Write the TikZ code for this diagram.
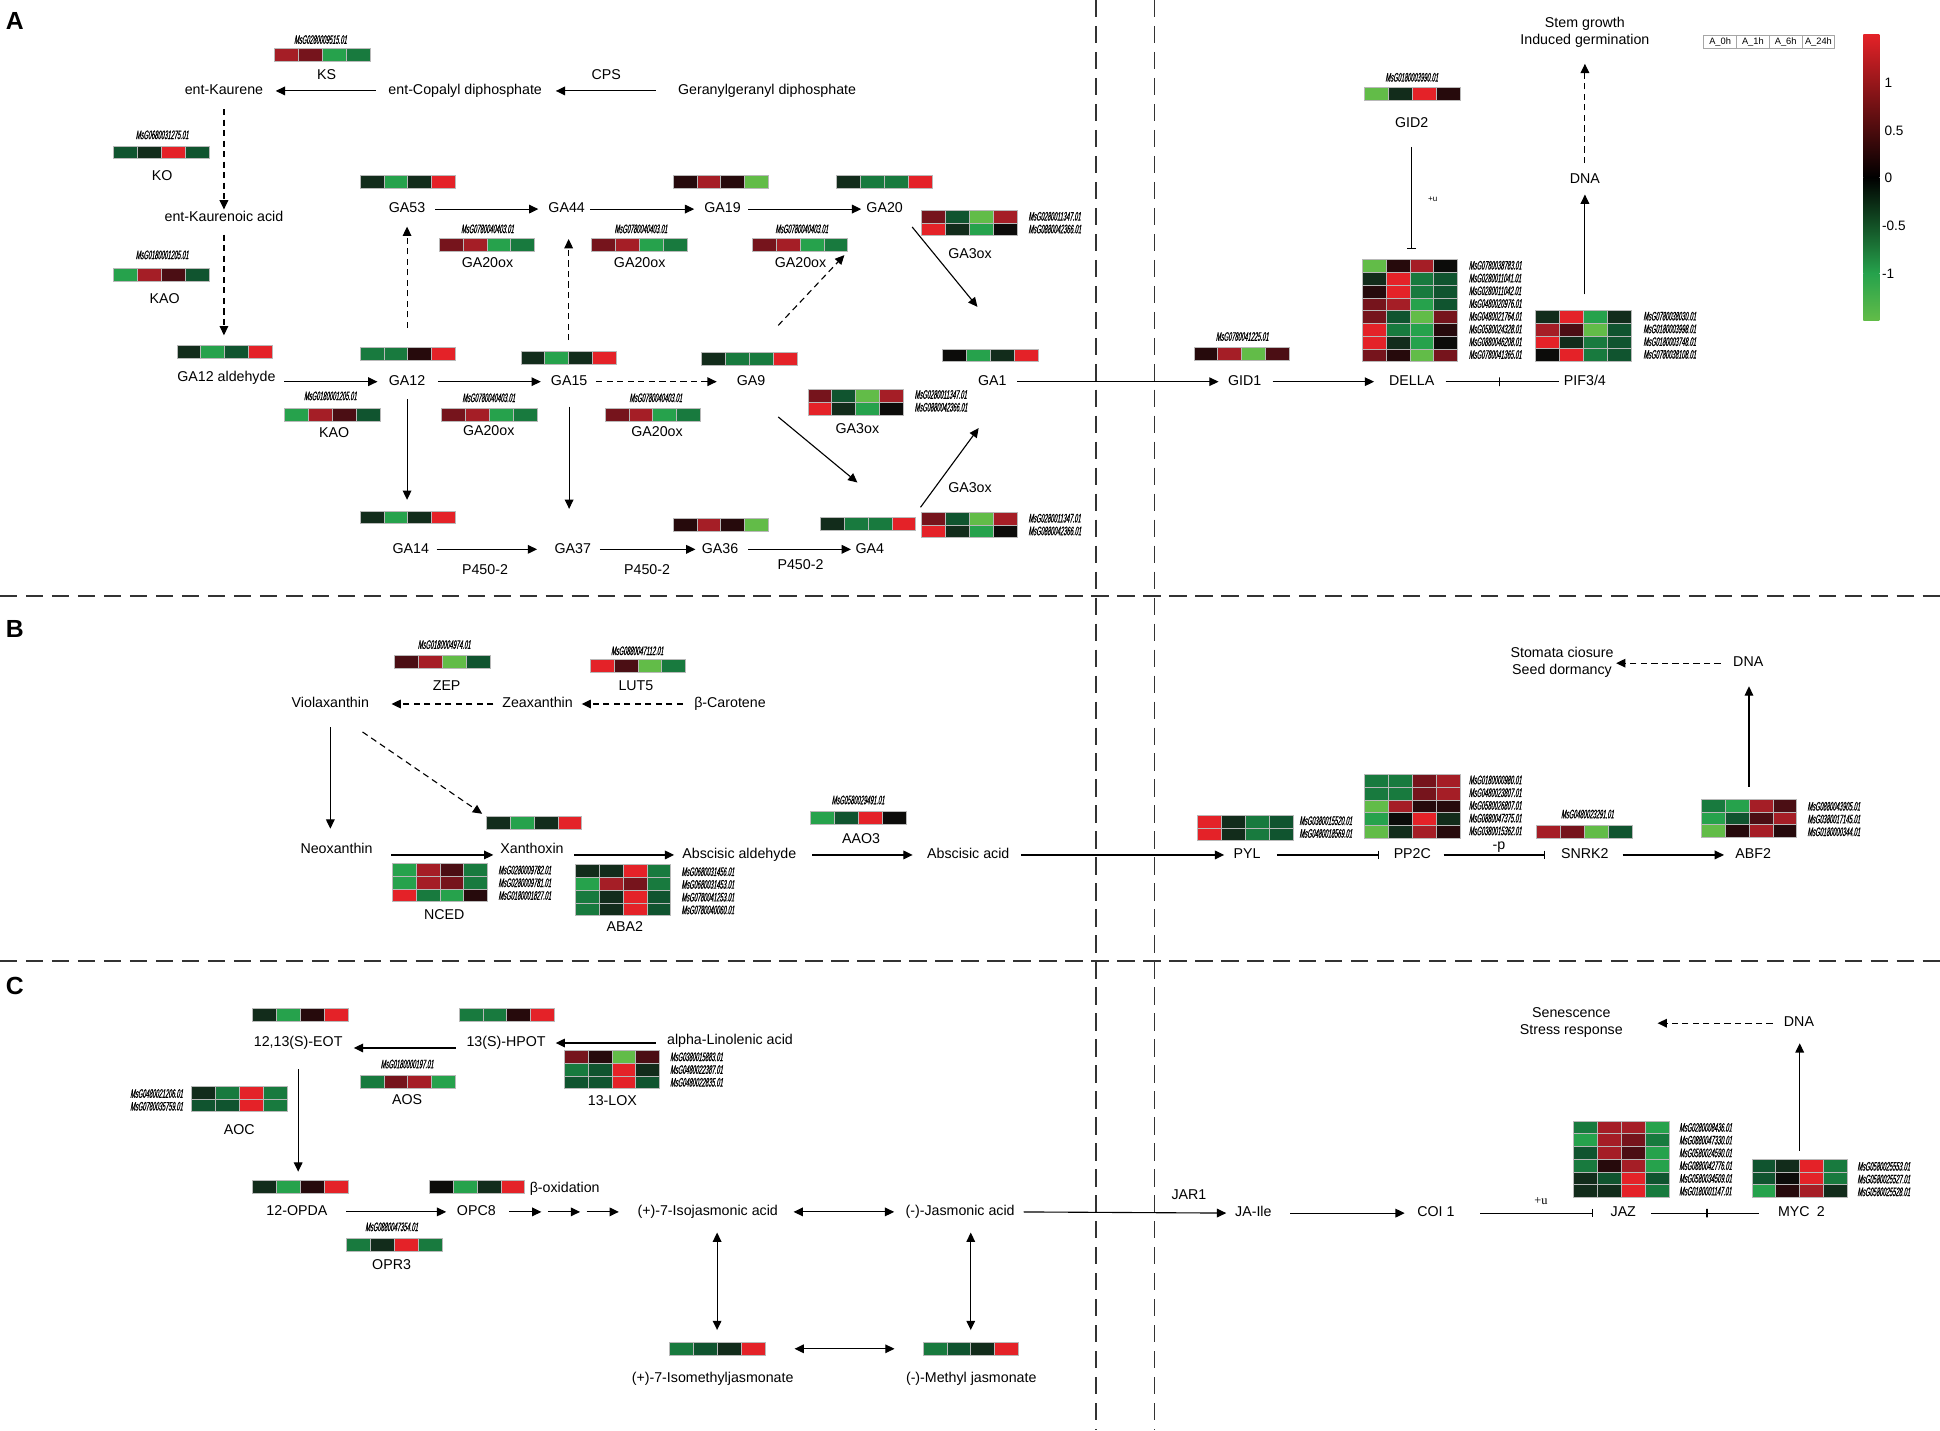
\documentclass[tikz,border=0pt]{standalone}
\usepackage{fontspec}
\setmainfont{Liberation Sans}
\newfontfamily\idfont[FakeStretch=0.47,FakeSlant=0.18,FakeBold=0.5]{Liberation Sans}
\newfontfamily\seriffont{Liberation Serif}
\usetikzlibrary{arrows.meta}

\definecolor{hr}{RGB}{228,34,40}
\definecolor{mr}{RGB}{165,30,38}
\definecolor{dr}{RGB}{118,20,28}
\definecolor{vr}{RGB}{75,14,20}
\definecolor{kr}{RGB}{38,10,12}
\definecolor{kk}{RGB}{12,12,10}
\definecolor{vg}{RGB}{18,44,27}
\definecolor{dg}{RGB}{16,84,47}
\definecolor{mg}{RGB}{24,122,62}
\definecolor{bg}{RGB}{38,162,76}
\definecolor{lg}{RGB}{98,188,72}

\tikzset{
  lab/.style={font=\fontsize{11.5}{13.6}\selectfont, inner sep=1pt, text height=8.5pt, text depth=2.5pt},
  txt/.style={font=\fontsize{11.5}{14}\selectfont, inner sep=1pt, align=center},
  gid/.style={font=\idfont\fontsize{10}{10.3}\selectfont, inner sep=0pt, align=left},
  cell/.style={draw=gray!55, line width=0.6pt},
  conn/.style={line width=0.9pt, -{Triangle[length=7.5pt,width=7pt]}, shorten <=7pt, shorten >=7pt},
  dconn/.style={conn, dash pattern=on 5pt off 3.5pt},
  inhib/.style={line width=0.9pt, -{Bar[width=7pt]}, shorten <=7pt, shorten >=7pt},
  plain/.style={line width=0.9pt, shorten <=7pt, shorten >=7pt},
  tickm/.style={draw, line width=0.9pt, minimum width=0pt, minimum height=7pt, inner sep=0pt},
  dbl/.style={line width=0.9pt, {Triangle[length=7.5pt,width=7pt]}-{Triangle[length=7.5pt,width=7pt]}},
  part/.style={font=\fontsize{20}{20}\selectfont\bfseries, inner sep=0pt},
  sep/.style={line width=1.4pt, black!80, dash pattern=on 14pt off 7pt},
  legbox/.style={draw=gray!70, line width=0.6pt, minimum width=26.5pt, minimum height=10.7pt, inner sep=0pt, font=\fontsize{7.5}{7.5}\selectfont},
  cbl/.style={font=\fontsize{11}{11}\selectfont, inner sep=0pt, anchor=west}
}

\newcommand{\hmap}[4]{%
  \node[inner sep=0pt, outer sep=0pt, minimum width=77.2pt, minimum height=#3*10.3pt, anchor=north west] (#1) at #2 {};
  \begin{scope}[shift={#2}]
    \foreach \ca/\cb/\cc/\cd [count=\r] in {#4}
      \foreach \cl [count=\c] in {\ca,\cb,\cc,\cd}
        \filldraw[cell, fill=\cl] ({(\c-1)*19.3},{(\r-1)*10.3}) rectangle +(19.3,10.3);
  \end{scope}}

\begin{document}
\begin{tikzpicture}[x=1pt,y=-1pt]
\useasboundingbox (0,0) rectangle (1568,1156);

\draw[sep] (0,482) -- (1568,482);
\draw[sep] (0,777) -- (1568,777);
\draw[sep, line width=1.2pt] (886,0) -- (886,1156);
\draw[sep, line width=1.2pt] (933,0) -- (933,1156);

\node[part] (pa) at (12,17) {A};
\node[part] (pb) at (12,508) {B};
\node[part] (pc) at (12,797) {C};

\hmap{hks}{(222,39)}{1}{mr/dr/bg/mg}
\hmap{hko}{(92,118)}{1}{dg/vg/hr/dg}
\hmap{hkao}{(92,217)}{1}{bg/mr/vr/dg}
\hmap{hga12a}{(143,279)}{1}{vg/bg/dg/hr}
\hmap{hkaob}{(230,330)}{1}{bg/mr/vr/dg}
\hmap{hga12}{(291,281)}{1}{mg/mg/kr/hr}
\hmap{hga53}{(291,142)}{1}{vg/bg/vg/hr}
\hmap{hox20a}{(355,193)}{1}{dr/mr/bg/mg}
\hmap{hox20b}{(357,330)}{1}{dr/mr/bg/mg}
\hmap{hga14}{(291,413)}{1}{vg/bg/vg/hr}
\hmap{hga36}{(544,419)}{1}{kr/mr/kr/lg}
\hmap{hga4}{(663,418)}{1}{vg/mg/mg/hr}
\hmap{hox3c}{(745,414)}{2}{dr/dg/lg/mr, hr/vg/bg/kk}
\hmap{hox3b}{(653,315)}{2}{dr/dg/lg/mr, hr/vg/bg/kk}
\hmap{hga1}{(762,282)}{1}{kk/bg/vg/hr}
\hmap{hga15}{(421,284)}{1}{vg/bg/vg/hr}
\hmap{hox20c}{(478,193)}{1}{dr/mr/bg/mg}
\hmap{hga19}{(544,142)}{1}{kr/mr/kr/lg}
\hmap{hox20d}{(608,193)}{1}{dr/mr/bg/mg}
\hmap{hga20}{(676,142)}{1}{vg/mg/mg/hr}
\hmap{hox3a}{(745,170)}{2}{dr/dg/lg/mr, hr/vg/bg/kk}
\hmap{hox20e}{(489,330)}{1}{dr/mr/bg/mg}
\hmap{hga9}{(567,285)}{1}{vg/mg/mg/hr}
\hmap{hgid2}{(1103,71)}{1}{lg/vg/hr/kr}
\hmap{hdella}{(1101,210)}{8}{lg/kr/mr/kk, vg/hr/mg/dg, kr/hr/mg/dg, dr/mr/bg/dg, dr/dg/lg/dr, hr/mg/bg/kr, hr/vg/bg/kk, dr/kr/lg/dr}
\hmap{hgid1}{(965,281)}{1}{kr/mr/lg/vr}
\hmap{hpif}{(1241,251)}{4}{vg/hr/bg/vg, mr/vr/lg/dg, hr/vg/mg/dg, kk/hr/mg/dg}

\node[gid] (iks) at (259,32) {MsG0280009515.01};
\node[gid] (iko) at (131,109) {MsG0680031275.01};
\node[gid] (ikao) at (131,206) {MsG0180001205.01};
\node[gid] (ikaob) at (267,320) {MsG0180001205.01};
\node[gid] (iox20a) at (394,185) {MsG0780040403.01};
\node[gid] (iox20b) at (395,321.5) {MsG0780040403.01};
\node[gid] (iox20c) at (518,185) {MsG0780040403.01};
\node[gid] (iox20d) at (648,185) {MsG0780040403.01};
\node[gid] (iox20e) at (530,321.5) {MsG0780040403.01};
\node[gid, anchor=west] (iox3a) at (831,180) {MsG0280011347.01\\MsG0880042366.01};
\node[gid, anchor=west] (iox3b) at (739,324) {MsG0280011347.01\\MsG0880042366.01};
\node[gid, anchor=west] (iox3c) at (831,424) {MsG0280011347.01\\MsG0880042366.01};
\node[gid] (igid2) at (1141,62.5) {MsG0180003990.01};
\node[gid] (igid1) at (1004,272) {MsG0780041225.01};
\node[gid, anchor=west] (idella) at (1187,250.5) {MsG0780038783.01\\MsG0280011041.01\\MsG0280011042.01\\MsG0480020976.01\\MsG0480021764.01\\MsG0580024328.01\\MsG0880046208.01\\MsG0780041365.01};
\node[gid, anchor=west] (ipif) at (1328,271) {MsG0780038030.01\\MsG0180003998.01\\MsG0180003748.01\\MsG0780038108.01};

\node[lab] (kaur) at (181,73.5) {ent-Kaurene};
\node[lab] (cpp) at (376,73.5) {ent-Copalyl diphosphate};
\node[lab] (ggpp) at (620,73.5) {Geranylgeranyl diphosphate};
\node[lab] (lks) at (264,61) {KS};
\node[lab] (lcps) at (490,61) {CPS};
\node[lab] (lko) at (131,143) {KO};
\node[lab] (kaac) at (181,176) {ent-Kaurenoic acid};
\node[lab] (lkao) at (133,242) {KAO};
\node[lab] (ga12a) at (183,305) {GA12 aldehyde};
\node[lab] (lkaob) at (270,351) {KAO};
\node[lab] (ga12) at (329,308.5) {GA12};
\node[lab] (ga53) at (329,169) {GA53};
\node[lab] (ga44) at (458,169) {GA44};
\node[lab] (ga19) at (584,169) {GA19};
\node[lab] (ga20) at (715,169) {GA20};
\node[lab] (ga15) at (460,308.5) {GA15};
\node[lab] (ga9) at (607,308.5) {GA9};
\node[lab] (ga1) at (802,308.5) {GA1};
\node[lab] (ga14) at (332,444) {GA14};
\node[lab] (ga37) at (463,444) {GA37};
\node[lab] (ga36) at (582,444) {GA36};
\node[lab] (ga4) at (703,444) {GA4};
\node[lab] (lox20a) at (394,213) {GA20ox};
\node[lab] (lox20b) at (395,349) {GA20ox};
\node[lab] (lox20c) at (517,213) {GA20ox};
\node[lab] (lox20d) at (647,213) {GA20ox};
\node[lab] (lox20e) at (531,350) {GA20ox};
\node[lab] (lox3a) at (784,206) {GA3ox};
\node[lab] (lox3b) at (693,347) {GA3ox};
\node[lab] (lox3c) at (784,395) {GA3ox};
\node[lab] (lp1) at (392,461) {P450-2};
\node[lab] (lp2) at (523,461) {P450-2};
\node[lab] (lp3) at (647,457) {P450-2};
\node[lab] (gid1) at (1006,308.5) {GID1};
\node[lab] (della) at (1141,308.5) {DELLA};
\node[lab] (pif) at (1281,308.5) {PIF3/4};
\node[lab] (gid2) at (1141,100) {GID2};
\node[lab] (dnaA) at (1281,145) {DNA};
\node[txt] (stem) at (1281,26) {Stem growth\\Induced germination};
\node[font=\fontsize{6.5}{6.5}\selectfont, inner sep=0pt] (lua) at (1158,161) {+u};

\coordinate (ga1in) at (790,248);
\coordinate (ga9up) at (629,263);
\coordinate (ga9dn) at (629,337);
\coordinate (ga4in) at (693,390);
\coordinate (ga4out) at (744,410);
\coordinate (ga1dn) at (791,346);

\draw[conn, shorten <=9pt, shorten >=9pt] (cpp.west) -- (kaur.east);
\draw[conn, shorten <=17pt, shorten >=10pt] (ggpp.west) -- (cpp.east);
\draw[dconn, shorten <=8pt, shorten >=0pt] (kaur.south) -- (kaac.north);
\draw[dconn, shorten <=7pt, shorten >=8pt] (kaac.south) -- (kaac.south |- hga12a.north);
\draw[conn, shorten <=6pt, shorten >=8pt] (ga12a.east |- ga12.west) -- (ga12.west);
\draw[dconn, shorten <=16pt, shorten >=7.5pt] (hga12.north -| ga12) -- (ga53.south);
\draw[conn] (ga53.east) -- (ga44.west);
\draw[conn, shorten <=9pt, shorten >=7pt] (ga12.east) -- (ga15.west);
\draw[dconn, shorten <=6pt, shorten >=15pt] (ga15.east) -- (ga9.west);
\draw[dconn, shorten <=9pt, shorten >=17.5pt] (hga15.north) -- (hga15.north |- ga44.south);
\draw[conn, shorten <=3pt, shorten >=7pt] (ga44.east) -- (ga19.west);
\draw[conn, shorten <=5pt, shorten >=3pt] (ga19.east) -- (ga20.west);
\draw[conn, shorten <=10pt, shorten >=0pt] (ga20.south east) -- (ga1in);
\draw[dconn, shorten <=0pt, shorten >=4pt] (ga9up) -- (hox20d.south east);
\draw[conn, shorten <=0pt, shorten >=0pt] (ga9dn) -- (ga4in);
\draw[conn, shorten <=0pt, shorten >=0pt] (ga4out) -- (ga1dn);
\draw[conn, shorten <=7.5pt, shorten >=9pt] (ga12.south) -- (ga12.south |- hga14.north);
\draw[conn, shorten <=13.5pt, shorten >=26pt] (ga15.south) -- (ga15.south |- ga37.north);
\draw[conn, shorten <=5pt, shorten >=13pt] (ga14.east) -- (ga37.west);
\draw[conn, shorten <=6pt, shorten >=4pt] (ga37.east) -- (ga36.west);
\draw[conn, shorten <=7pt, shorten >=2.5pt] (ga36.east) -- (ga4.west);
\draw[conn, shorten <=7.5pt, shorten >=6.5pt] (ga1.east) -- (gid1.west);
\draw[conn, shorten <=8pt, shorten >=11pt] (gid1.east) -- (della.west);
\draw[plain, shorten <=8pt, shorten >=2.5pt] (della.east) -- node[tickm] (tk1) {} (pif.west);
\draw[inhib, shorten <=12pt, shorten >=8.5pt] (gid2.south) -- (gid2.south |- hdella.north);
\draw[conn, shorten <=13pt, shorten >=5.5pt] (hpif.north -| dnaA) -- (dnaA.south);
\draw[dconn, shorten <=6.5pt, shorten >=12pt] (dnaA.north) -- (stem.south);

\foreach \t [count=\i] in {A\_0h,A\_1h,A\_6h,A\_24h}
  \node[legbox] (leg\i) at ({1377+26.5*(\i-0.5)},33.6) {\t};
\shade[top color=hr, bottom color=black] (1506,27.5) rectangle (1519,143.5);
\shade[top color=black, bottom color=bg] (1506,143.4) rectangle (1519,221);
\shade[top color=bg, bottom color=lg] (1506,220.9) rectangle (1519,259);
\node[cbl] (cb1) at (1523,67) {1};
\node[cbl] (cb2) at (1523,106) {0.5};
\node[cbl] (cb3) at (1523,144) {0};
\node[cbl] (cb4) at (1521,182.5) {-0.5};
\node[cbl] (cb5) at (1521,221) {-1};

\hmap{hzep}{(319,530)}{1}{vr/mr/lg/dg}
\hmap{hlut}{(477,533)}{1}{hr/vr/lg/mg}
\hmap{hxan}{(393,660)}{1}{vg/bg/vg/hr}
\hmap{hnced}{(317,698)}{3}{bg/mr/vr/mg, bg/mr/dr/mg, hr/mg/bg/kr}
\hmap{haba2}{(465,699)}{4}{vg/vg/hr/mg, bg/mr/dr/mg, mg/vg/hr/dg, mg/vg/hr/dg}
\hmap{haao}{(655,656)}{1}{bg/dg/hr/kk}
\hmap{hpyl}{(968,659)}{2}{hr/vg/mg/dg, hr/vg/mg/dg}
\hmap{hpp2c}{(1103,626)}{5}{mg/mg/dr/mr, mg/mg/dr/mr, lg/mr/kr/kr, bg/kk/hr/vg, lg/vg/mr/kr}
\hmap{hsnrk}{(1242,667)}{1}{mr/dr/lg/dg}
\hmap{habf}{(1375,646)}{3}{mg/bg/mr/vr, bg/dg/vr/mr, lg/kr/mr/kr}

\node[gid] (izep) at (359,521) {MsG0180004974.01};
\node[gid] (ilut) at (515,526) {MsG0880047112.01};
\node[gid, anchor=west] (inced) at (402.6,713.5) {MsG0280009782.01\\MsG0280009781.01\\MsG0180001827.01};
\node[gid, anchor=west] (iaba2) at (550.6,720) {MsG0680031456.01\\MsG0680031453.01\\MsG0780041253.01\\MsG0780040060.01};
\node[gid] (iaao) at (693.5,646.6) {MsG0580029491.01};
\node[gid, anchor=west] (ipyl) at (1050,668.5) {MsG0380015520.01\\MsG0480018569.01};
\node[gid, anchor=west] (ipp2c) at (1187,651) {MsG0180000980.01\\MsG0480023807.01\\MsG0580026807.01\\MsG0880047375.01\\MsG0380015362.01};
\node[gid] (isnrk) at (1283,658) {MsG0480023291.01};
\node[gid, anchor=west] (iabf) at (1460.6,662) {MsG0880043905.01\\MsG0380017145.01\\MsG0180000344.01};

\node[lab] (viol) at (267,569) {Violaxanthin};
\node[lab] (zea) at (434.5,569) {Zeaxanthin};
\node[lab] (bcar) at (590,569) {β-Carotene};
\node[lab] (lzep) at (361,555) {ZEP};
\node[lab] (llut) at (514,555) {LUT5};
\node[lab] (neo) at (272,687) {Neoxanthin};
\node[lab] (xan) at (430,687) {Xanthoxin};
\node[lab] (abal) at (597.6,691) {Abscisic aldehyde};
\node[lab] (laao) at (696,679) {AAO3};
\node[lab] (aba) at (782.6,691) {Abscisic acid};
\node[lab] (lnced) at (359,740) {NCED};
\node[lab] (laba2) at (505,750) {ABA2};
\node[lab] (pyl) at (1008,691) {PYL};
\node[lab] (pp2c) at (1141.5,691) {PP2C};
\node[lab] (snrk) at (1281,691) {SNRK2};
\node[lab] (abf) at (1417,691) {ABF2};
\node[lab] (dnaB) at (1413,536) {DNA};
\node[txt] (stoma) at (1262.5,535.5) {Stomata ciosure\\Seed dormancy};
\node[lab] (lp) at (1211.6,683.5) {-p};

\coordinate (violdn) at (293,591.6);

\draw[dconn, shorten <=8pt, shorten >=6pt] (bcar.west) -- (zea.east);
\draw[dconn, shorten <=6pt, shorten >=17pt] (zea.west) -- (viol.east);
\draw[conn, shorten <=12pt, shorten >=10.5pt] (viol.south) -- (viol.south |- neo.north);
\draw[dconn, shorten <=0pt, shorten >=4pt] (violdn) -- (hxan.north west);
\draw[conn, shorten <=14pt, shorten >=4.5pt] ([yshift=-4pt]neo.east) -- ([yshift=-4pt]xan.west);
\draw[conn, shorten <=7.5pt, shorten >=5.5pt] ([yshift=-4pt]xan.east) -- (abal.west);
\draw[conn, shorten <=11.5pt, shorten >=10.5pt] (abal.east) -- (aba.west);
\draw[conn, shorten <=8pt, shorten >=6.5pt] (aba.east) -- (pyl.west);
\draw[inhib, shorten <=12pt, shorten >=10.5pt] (pyl.east) -- (pp2c.west);
\draw[inhib, shorten <=9pt, shorten >=12pt] (pp2c.east) -- (snrk.west);
\draw[conn, shorten <=10pt, shorten >=8pt] (snrk.east) -- (abf.west);
\draw[conn, shorten <=10pt, shorten >=12pt] (habf.north) -- (habf.north |- dnaB.south);
\draw[dconn, shorten <=9pt, shorten >=1pt] (dnaB.west) -- (stoma.east |- dnaB.west);

\hmap{heot}{(204,815)}{1}{vg/bg/kr/hr}
\hmap{hhpot}{(371,815)}{1}{mg/mg/kr/hr}
\hmap{haos}{(291,869)}{1}{mg/dr/mr/bg}
\hmap{hlox}{(456,849)}{3}{dr/kr/lg/vr, mg/dg/hr/vg, dg/dg/hr/dg}
\hmap{haoc}{(155,878)}{2}{vg/mg/hr/mg, dg/dg/hr/mg}
\hmap{hopda}{(204,954)}{1}{vg/bg/kr/hr}
\hmap{hopr}{(280,1001)}{1}{mg/vg/hr/mg}
\hmap{hopc}{(347,954)}{1}{kk/bg/vg/hr}
\hmap{hisom}{(541,1085)}{1}{mg/dg/vg/hr}
\hmap{hmeth}{(746,1085)}{1}{mg/dg/vg/hr}
\hmap{hjaz}{(1272,906)}{6}{mg/mr/mr/bg, bg/mr/dr/mg, dg/mr/vr/bg, mg/kr/mr/bg, vg/dg/hr/dg, vg/vg/hr/mg}
\hmap{hmyc}{(1416,937)}{3}{dg/vg/hr/mg, dg/kk/hr/mg, bg/kr/mr/vg}

\node[gid] (iaos) at (329,860) {MsG0180000197.01};
\node[gid, anchor=west] (ilox) at (541.4,864.5) {MsG0380015883.01\\MsG0480022387.01\\MsG0480022835.01};
\node[gid, align=right, anchor=east] (iaoc) at (148,889) {MsG0480021206.01\\MsG0780035759.01};
\node[gid] (iopr) at (316.5,991.6) {MsG0880047354.01};
\node[gid, anchor=west] (ijaz) at (1357,937) {MsG0280008436.01\\MsG0880047330.01\\MsG0580024590.01\\MsG0880042776.01\\MsG0580034509.01\\MsG0180001147.01};
\node[gid, anchor=west] (imyc) at (1501,953) {MsG0580025553.01\\MsG0580025527.01\\MsG0580025528.01};

\node[lab] (eot) at (241,843) {12,13(S)-EOT};
\node[lab] (hpot) at (409,843) {13(S)-HPOT};
\node[lab] (ala) at (590,841) {alpha-Linolenic acid};
\node[lab] (laos) at (329,889.6) {AOS};
\node[lab] (llox) at (495,890.5) {13-LOX};
\node[lab] (laoc) at (193.4,914) {AOC};
\node[lab] (opda) at (240,979.5) {12-OPDA};
\node[lab] (opc8) at (385,979.5) {OPC8};
\node[lab, anchor=west] (lbox) at (427,961) {β-oxidation};
\node[lab] (lopr) at (316.5,1023) {OPR3};
\node[lab] (iso) at (572,979.5) {(+)-7-Isojasmonic acid};
\node[lab] (jas) at (776,979.5) {(-)-Jasmonic acid};
\node[lab] (isom) at (576,1114.6) {(+)-7-Isomethyljasmonate};
\node[lab] (meth) at (785,1114.6) {(-)-Methyl jasmonate};
\node[lab] (ljar) at (961,966.5) {JAR1};
\node[lab] (jaile) at (1013,980.5) {JA-Ile};
\node[lab] (coi) at (1160.6,980.5) {COI 1};
\node[lab] (jaz) at (1312,980.5) {JAZ};
\node[lab] (myc) at (1456,980.5) {MYC\enspace 2};
\node[lab] (dnaC) at (1454,827) {DNA};
\node[txt] (sen) at (1270,826.5) {Senescence\\Stress response};
\node[font=\seriffont\fontsize{10}{10}\selectfont, inner sep=0pt] (lub) at (1245.4,970.5) {+u};

\draw[conn, shorten <=8pt, shorten >=7pt] (ala.west |- hpot.east) -- (hpot.east);
\draw[conn, shorten <=7.5pt, shorten >=8pt] ([yshift=-4pt]hpot.west) -- ([yshift=-4pt]eot.east);
\draw[conn, shorten <=14.5pt, shorten >=7pt] (eot.south) -- (eot.south |- hopda.north);
\draw[conn, shorten <=14pt, shorten >=7.5pt] (opda.east) -- (opc8.west);
\foreach \k in {0,1,2}
  \draw[conn, shorten <=0pt, shorten >=0pt] ([xshift={9.7+31.3*\k}]opc8.east) -- ++(26,0);
\draw[dbl, shorten <=11.5pt, shorten >=8pt] (iso.east) -- (jas.west);
\draw[dbl, shorten <=10pt, shorten >=10pt] (iso.south -| hisom.north) -- (hisom.north);
\draw[dbl, shorten <=10pt, shorten >=10pt] (jas.south -| hmeth.north) -- (hmeth.north);
\draw[dbl, shorten <=24pt, shorten >=23pt] (hisom.east) -- (hmeth.west);
\draw[conn, shorten <=6pt, shorten >=6pt] (jas.east) -- (jaile.west);
\draw[conn, shorten <=14pt, shorten >=9pt] (jaile.east) -- (coi.west);
\draw[inhib, shorten <=19.5pt, shorten >=13pt] (coi.east) -- (jaz.west);
\draw[plain, shorten <=11pt, shorten >=14.5pt] (jaz.east) -- node[tickm] (tk2) {} (myc.west);
\draw[conn, shorten <=7pt, shorten >=9.5pt] (hmyc.north) -- (hmyc.north |- dnaC.south);
\draw[dconn, shorten <=8pt, shorten >=27pt] (dnaC.west) -- (sen.east |- dnaC.west);
\end{tikzpicture}
\end{document}
